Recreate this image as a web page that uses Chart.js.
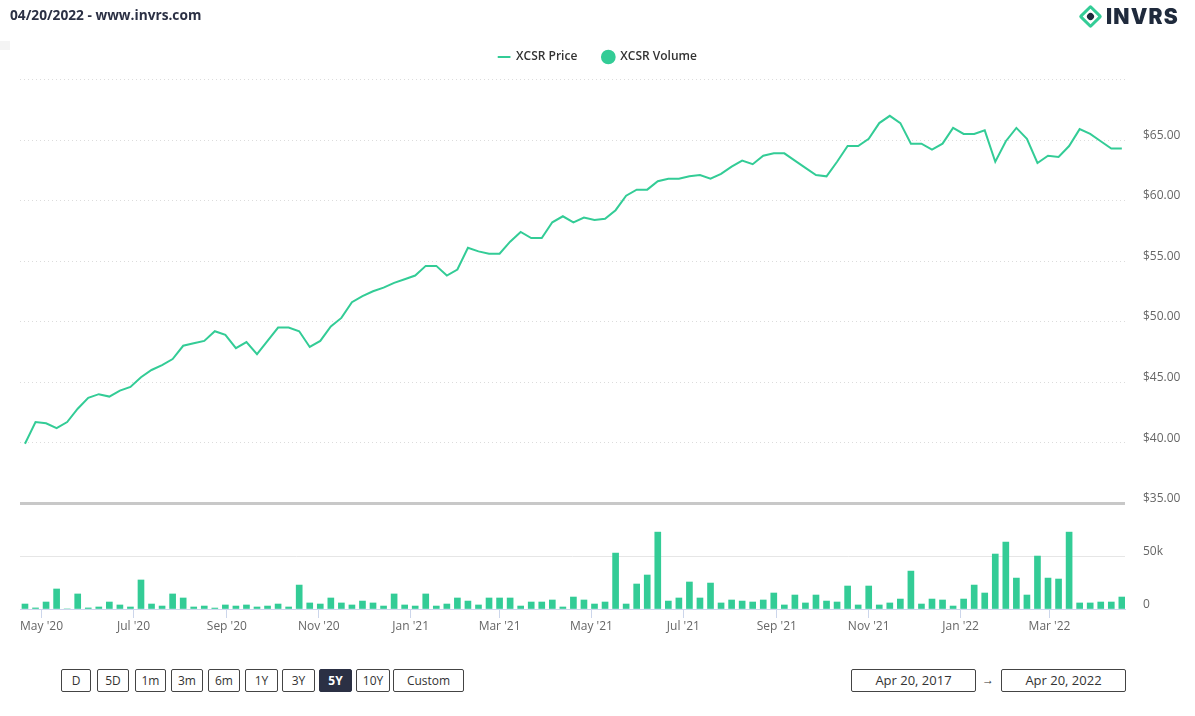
<!DOCTYPE html>
<html>
<head>
<meta charset="utf-8">
<script src="https://cdn.jsdelivr.net/npm/chart.js@4.4.1/dist/chart.umd.min.js"></script>
<style>
  body { margin: 0; width: 1195px; height: 716px; background: #fff; position: relative; overflow: hidden; font-family: "Open Sans", sans-serif; }
  #chart { position: absolute; left: 0; top: 0; }
  .stamp { position: absolute; left: 10px; top: 5px; font-size: 13.7px; font-weight: 700; color: #2b3044; }
  .corner { position: absolute; left: 0; top: 41px; width: 10px; height: 9px; background: #f4f4f4; }
  .logo { position: absolute; left: 1080px; top: 3px; height: 26px; display: flex; align-items: center; }
  .logo .mark { width: 11px; height: 11px; border: 3px solid #33cc96; transform: rotate(45deg); border-radius: 2px; position: relative; margin: 0 7px 0 2px; }
  .logo .mark::after { content: ""; position: absolute; left: 2px; top: 2px; width: 7px; height: 7px; border-radius: 50%; background: #1f2a3c; }
  .logo span { font-family: Inter, sans-serif; font-weight: 900; font-size: 21px; letter-spacing: 1.2px; color: #1f2a3c; }
  .btn { position: absolute; top: 669px; height: 23px; line-height: 21px; box-sizing: border-box; border: 1px solid #444; border-radius: 2px; font-size: 12px; color: #333; text-align: center; }
  .btn.on { background: #2b3044; border-color: #2b3044; color: #fff; font-weight: 700; }
  .date { position: absolute; top: 669px; width: 125px; height: 23px; line-height: 21px; box-sizing: border-box; border: 1px solid #444; border-radius: 2px; font-size: 13px; color: #333; text-align: center; }
  .arrow { position: absolute; left: 982px; top: 670px; line-height: 20px; font-size: 12px; color: #333; }
</style>
</head>
<body>
<canvas id="chart" width="1195" height="635"></canvas>
<div class="stamp">04/20/2022 - www.invrs.com</div>
<div class="corner"></div>
<div class="logo"><div class="mark"></div><span>INVRS</span></div>
<div class="btn" style="left:61px;width:30px">D</div>
<div class="btn" style="left:97px;width:32px">5D</div>
<div class="btn" style="left:135px;width:31px">1m</div>
<div class="btn" style="left:171px;width:32px">3m</div>
<div class="btn" style="left:208px;width:32px">6m</div>
<div class="btn" style="left:245px;width:33px">1Y</div>
<div class="btn" style="left:282px;width:33px">3Y</div>
<div class="btn on" style="left:319px;width:33px">5Y</div>
<div class="btn" style="left:356px;width:34px">10Y</div>
<div class="btn" style="left:393px;width:71px">Custom</div>
<div class="date" style="left:851px">Apr 20, 2017</div>
<div class="arrow">&rarr;</div>
<div class="date" style="left:1001px">Apr 20, 2022</div>

<script>
// weekly closes, first week of the series and weekly step
const firstWeek = '2020-04-20'
const weekCount = 105

const price = [
  39.9, 41.7, 41.6, 41.2, 41.7, 42.8, 43.7, 44.0, 43.8, 44.3, 44.6, 45.4, 46.0, 46.4, 46.9, 48.0, 48.2, 48.4,
  49.2, 48.9, 47.8, 48.3, 47.3, 48.4, 49.5, 49.5, 49.2, 47.9, 48.4, 49.6, 50.3, 51.6, 52.1, 52.5, 52.8, 53.2,
  53.5, 53.8, 54.6, 54.6, 53.8, 54.3, 56.1, 55.8, 55.6, 55.6, 56.6, 57.4, 56.9, 56.9, 58.2, 58.7, 58.2, 58.6,
  58.4, 58.5, 59.2, 60.4, 60.9, 60.9, 61.6, 61.8, 61.8, 62.0, 62.1, 61.8, 62.2, 62.8, 63.3, 63.0, 63.7, 63.9,
  63.9, 63.3, 62.7, 62.1, 62.0, 63.2, 64.5, 64.5, 65.1, 66.4, 67.0, 66.4, 64.7, 64.7, 64.2, 64.7, 66.0, 65.5,
  65.5, 65.8, 63.2, 64.9, 66.0, 65.1, 63.1, 63.7, 63.6, 64.5, 65.9, 65.5, 64.9, 64.3, 64.3
]

const volume = [
  4700, 1000, 6600, 18900, 0, 14200, 1000, 1900, 6600, 3800, 1900, 27400, 4700, 2800, 14200, 10400, 1900, 2800,
  900, 3800, 2800, 3800, 1900, 2800, 4700, 1900, 22600, 5700, 4700, 10400, 5700, 3800, 7500, 5700, 2800, 14200,
  3800, 2800, 14200, 2800, 4700, 10400, 7500, 3800, 10400, 10400, 10400, 2800, 6600, 6600, 8500, 1900, 11300, 8500,
  4700, 6600, 52800, 4700, 23600, 32100, 72600, 7500, 10400, 25500, 10400, 24500, 5700, 8500, 7500, 6600, 8500, 15100,
  3800, 13200, 5700, 13200, 7500, 6600, 21700, 3800, 21700, 3800, 5700, 9400, 35800, 4700, 9400, 8500, 2800, 9400,
  22600, 15100, 51900, 63200, 29200, 13200, 50000, 29200, 28300, 72600, 5700, 5700, 6600, 6600, 11300
]

// x axis month ticks
const monthTicks = ['2020-05-01', '2020-07-01', '2020-09-01', '2020-11-01', '2021-01-01', '2021-03-01',
  '2021-05-01', '2021-07-01', '2021-09-01', '2021-11-01', '2022-01-01', '2022-03-01']
const monthNames = ['Jan', 'Feb', 'Mar', 'Apr', 'May', 'Jun', 'Jul', 'Aug', 'Sep', 'Oct', 'Nov', 'Dec']

const priceTicks = [35, 40, 45, 50, 55, 60, 65, 70]
const volumeTicks = [0, 50000, 100000]

const green = '#33cc96'
const DAY = 86400000
const toDay = s => Date.parse(s + 'T00:00:00Z') / DAY
const dayLabel = d => {
  const dt = new Date(d * DAY)
  return monthNames[dt.getUTCMonth()] + " '" + String(dt.getUTCFullYear()).slice(2)
}

const weeks = []
for (let i = 0; i < weekCount; i++) weeks.push(toDay(firstWeek) + i * 7)

// legend: fixed height under it, and centred on the page rather than the padded box
const legendGap = {
  id: 'legendGap',
  beforeInit(chart) {
    const fit = chart.legend.fit
    chart.legend.fit = function () {
      fit.call(this)
      this.height = 53.5
    }
  },
  afterLayout(chart) {
    chart.legend.left -= 10
    chart.legend.right -= 10
  }
}

const tickFont = { family: '"Open Sans", sans-serif', size: 12 }

new Chart(document.getElementById('chart'), {
  data: {
    datasets: [
      {
        type: 'line',
        label: 'XCSR Price',
        data: weeks.map((d, i) => ({ x: d, y: price[i] })),
        yAxisID: 'y',
        borderColor: green,
        backgroundColor: green,
        borderWidth: 2,
        pointRadius: 0,
        tension: 0
      },
      {
        type: 'bar',
        label: 'XCSR Volume',
        data: weeks.map((d, i) => ({ x: d, y: volume[i] })),
        yAxisID: 'yVol',
        backgroundColor: green,
        borderWidth: 0,
        barThickness: 6
      }
    ]
  },
  options: {
    responsive: false,
    animation: false,
    layout: { padding: { left: 20, top: 26, right: 0, bottom: 0 } },
    plugins: {
      legend: {
        display: true,
        position: 'top',
        labels: {
          usePointStyle: true,
          boxHeight: 9,
          padding: 25,
          color: '#333333',
          font: { family: '"Open Sans", sans-serif', size: 12, weight: '600' },
          generateLabels: chart => chart.data.datasets.map((ds, i) => ({
            text: ds.label,
            datasetIndex: i,
            fillStyle: green,
            strokeStyle: green,
            lineWidth: 2,
            fontColor: '#333333',
            pointStyle: i === 0 ? 'line' : 'circle',
            hidden: false
          }))
        }
      },
      tooltip: { enabled: false }
    },
    scales: {
      x: {
        type: 'linear',
        offset: false,
        min: toDay(firstWeek) - 3.3,
        max: weeks[weeks.length - 1] + 2.1,
        afterBuildTicks: scale => { scale.ticks = monthTicks.map(s => ({ value: toDay(s) })) },
        afterFit: scale => { scale.height = 26 },
        grid: { offset: false, drawOnChartArea: false, drawTicks: true, tickLength: 9, color: '#ccd6eb' },
        border: { display: true, color: '#ccd6eb' },
        ticks: {
          padding: 1,
          maxRotation: 0,
          autoSkip: false,
          color: '#666666',
          font: tickFont,
          callback: v => dayLabel(v)
        }
      },
      y: {
        type: 'linear',
        position: 'right',
        stack: 'panes',
        stackWeight: 4,
        min: 35,
        max: 70,
        afterBuildTicks: scale => { scale.ticks = priceTicks.map(v => ({ value: v })) },
        afterFit: scale => { scale.width = 70 },
        border: { display: false, dash: [1, 3] },
        grid: {
          drawTicks: false,
          color: c => c.tick.value === 35 ? 'rgba(0,0,0,0)' : '#dcdcdc'
        },
        ticks: {
          padding: 18,
          labelOffset: -4.5,
          color: '#666666',
          font: tickFont,
          callback: v => v === 70 ? '' : '$' + v.toFixed(2)
        }
      },
      yVol: {
        type: 'linear',
        position: 'right',
        stack: 'panes',
        stackWeight: 1,
        min: 0,
        max: 100000,
        afterBuildTicks: scale => { scale.ticks = volumeTicks.map(v => ({ value: v })) },
        afterFit: scale => { scale.width = 70 },
        border: { display: false },
        grid: {
          drawTicks: false,
          color: c => c.tick.value === 100000 ? '#c8c8c8' : '#e6e6e6',
          lineWidth: c => c.tick.value === 100000 ? 3 : 1
        },
        ticks: {
          padding: 18,
          labelOffset: -4.5,
          color: '#666666',
          font: tickFont,
          callback: v => v === 100000 ? '' : (v === 0 ? '0' : (v / 1000) + 'k')
        }
      }
    }
  },
  plugins: [legendGap]
})
</script>
</body>
</html>
